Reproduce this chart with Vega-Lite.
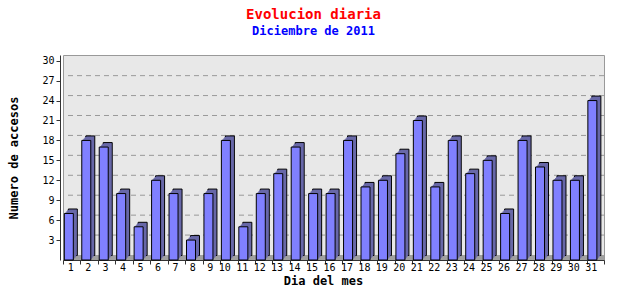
{
  "$schema": "https://vega.github.io/schema/vega-lite/v6.json",
  "autosize": "none",
  "width": 541,
  "height": 205,
  "padding": {"left": 63, "top": 55, "right": 36, "bottom": 40},
  "background": "white",
  "title": {
    "text": "Evolucion diaria",
    "subtitle": "Diciembre de 2011",
    "anchor": "middle",
    "frame": "group",
    "dx": -20,
    "offset": 18,
    "color": "#ff0000",
    "subtitleColor": "#0000ff",
    "font": "DejaVu Sans Mono",
    "subtitleFont": "DejaVu Sans Mono",
    "fontSize": 14,
    "subtitleFontSize": 12,
    "fontWeight": "bold",
    "subtitleFontWeight": "bold",
    "subtitlePadding": 4
  },
  "config": {
    "view": {"fill": "#e8e8e8", "stroke": "#999999", "strokeWidth": 1},
    "axis": {
      "labelFont": "DejaVu Sans Mono",
      "titleFont": "DejaVu Sans Mono",
      "labelFontSize": 10,
      "titleFontSize": 12,
      "titleFontWeight": "bold",
      "labelColor": "#000000",
      "titleColor": "#000000",
      "domainColor": "#333333",
      "tickColor": "#333333",
      "labelOverlap": false
    }
  },
  "datasets": {
    "visits": [
      {"dia": 1, "accesos": 7}, {"dia": 2, "accesos": 18}, {"dia": 3, "accesos": 17},
      {"dia": 4, "accesos": 10}, {"dia": 5, "accesos": 5}, {"dia": 6, "accesos": 12},
      {"dia": 7, "accesos": 10}, {"dia": 8, "accesos": 3}, {"dia": 9, "accesos": 10},
      {"dia": 10, "accesos": 18}, {"dia": 11, "accesos": 5}, {"dia": 12, "accesos": 10},
      {"dia": 13, "accesos": 13}, {"dia": 14, "accesos": 17}, {"dia": 15, "accesos": 10},
      {"dia": 16, "accesos": 10}, {"dia": 17, "accesos": 18}, {"dia": 18, "accesos": 11},
      {"dia": 19, "accesos": 12}, {"dia": 20, "accesos": 16}, {"dia": 21, "accesos": 21},
      {"dia": 22, "accesos": 11}, {"dia": 23, "accesos": 18}, {"dia": 24, "accesos": 13},
      {"dia": 25, "accesos": 15}, {"dia": 26, "accesos": 7}, {"dia": 27, "accesos": 18},
      {"dia": 28, "accesos": 14}, {"dia": 29, "accesos": 12}, {"dia": 30, "accesos": 12},
      {"dia": 31, "accesos": 24}
    ],
    "grid": [
      {"g": 3}, {"g": 6}, {"g": 9}, {"g": 12}, {"g": 15}, {"g": 18}, {"g": 21}, {"g": 24}, {"g": 27}
    ],
    "floor": [{"f": 0}]
  },
  "layer": [
    {
      "data": {"name": "grid"},
      "mark": {"type": "rule", "color": "#999999", "strokeDash": [5, 4], "yOffset": -5, "strokeWidth": 1},
      "encoding": {
        "y": {"field": "g", "type": "quantitative", "title": "Numero de accesos", "scale": {"domain": [0, 30.86], "nice": false, "zero": true}}
      }
    },
    {
      "data": {"name": "floor"},
      "mark": {"type": "rule", "color": "#a0a0a0", "yOffset": -2.5, "strokeWidth": 5},
      "encoding": {
        "y": {"field": "f", "type": "quantitative", "title": "Numero de accesos"}
      }
    },
    {
      "data": {"name": "visits"},
      "mark": {"type": "bar", "width": 9, "xOffset": 1.1, "yOffset": -4.5, "fill": "#6868a8", "stroke": "#000000", "strokeWidth": 1},
      "encoding": {
        "x": {"field": "dia", "type": "ordinal", "title": "Dia del mes"},
        "y": {"field": "accesos", "type": "quantitative", "title": "Numero de accesos"}
      }
    },
    {
      "data": {"name": "visits"},
      "mark": {"type": "bar", "width": 9, "xOffset": 0.1, "yOffset": -3.4, "fill": "#6868a8"},
      "encoding": {
        "x": {"field": "dia", "type": "ordinal", "title": "Dia del mes"},
        "y": {"field": "accesos", "type": "quantitative", "title": "Numero de accesos"}
      }
    },
    {
      "data": {"name": "visits"},
      "mark": {"type": "bar", "width": 9, "xOffset": -0.9, "yOffset": -2.25, "fill": "#6868a8"},
      "encoding": {
        "x": {"field": "dia", "type": "ordinal", "title": "Dia del mes"},
        "y": {"field": "accesos", "type": "quantitative", "title": "Numero de accesos"}
      }
    },
    {
      "data": {"name": "visits"},
      "mark": {"type": "bar", "width": 9, "xOffset": -1.9, "yOffset": -1.1, "fill": "#6868a8"},
      "encoding": {
        "x": {"field": "dia", "type": "ordinal", "title": "Dia del mes"},
        "y": {"field": "accesos", "type": "quantitative", "title": "Numero de accesos"}
      }
    },
    {
      "data": {"name": "visits"},
      "mark": {"type": "bar", "width": 9, "xOffset": -2.9, "fill": "#8080ff", "stroke": "#000000", "strokeWidth": 1},
      "encoding": {
        "x": {
          "field": "dia",
          "type": "ordinal",
          "title": "Dia del mes",
          "scale": {"paddingInner": 0, "paddingOuter": 0},
          "axis": {
            "labelAngle": 0,
            "tickBand": "extent",
            "tickOffset": -3,
            "labelOffset": 1.5,
            "tickSize": 4,
            "labelPadding": 3,
            "titlePadding": 3,
            "titleX": 260
          }
        },
        "y": {
          "field": "accesos",
          "type": "quantitative",
          "title": "Numero de accesos",
          "axis": {
            "values": [3, 6, 9, 12, 15, 18, 21, 24, 27, 30],
            "tickCount": 10,
            "labelOverlap": false,
            "grid": false,
            "offset": 3,
            "tickSize": 4,
            "labelPadding": 2,
            "titlePadding": 21
          }
        }
      }
    }
  ]
}
